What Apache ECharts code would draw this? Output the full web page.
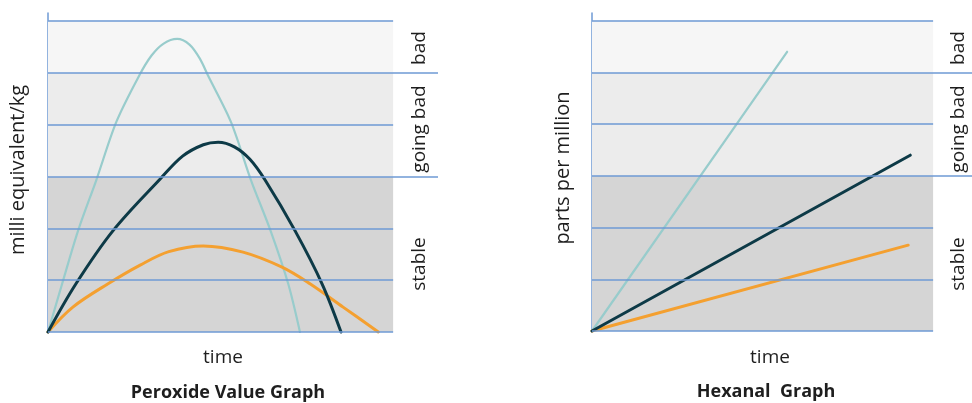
<!DOCTYPE html>
<html><head><meta charset="utf-8">
<script src="https://cdn.jsdelivr.net/npm/echarts@6/dist/echarts.min.js"></script>
<style>html,body{margin:0;padding:0;background:#fff}#c{width:972px;height:403px}</style>
</head><body><div id="c"></div>
<script>
// ---- data ----
const bandLabels = ['stable', 'going bad', 'bad'];
const bandBounds = [0, 3, 5, 6];
const gridLevels = [0, 1, 2, 3, 4, 5, 6];
const boundaryLevels = [3, 5];

// Peroxide value graph (time, milli equivalent/kg)
const pvTimeLight  = [0, 0.41, 0.87, 1.40, 1.98, 2.64, 3.0, 3.35, 3.74, 4.1, 4.4, 4.64, 5.30, 5.88, 6.45, 6.96, 7.30];
const pvValueLight = [0, 0.93, 1.95, 2.93, 4.05, 4.94, 5.33, 5.56, 5.65, 5.54, 5.27, 4.94, 4.05, 2.93, 1.95, 0.93, 0];
const pvTimeDark   = [0, 0.81, 1.88, 3.25, 3.9, 4.5, 4.93, 5.4, 5.85, 6.29, 7.16, 7.94, 8.49];
const pvValueDark  = [0, 0.93, 1.95, 2.95, 3.39, 3.61, 3.66, 3.57, 3.33, 2.93, 1.95, 0.93, 0];
const pvTimeOrange  = [0, 0.72, 1.74, 2.67, 3.5, 4.5, 5.65, 6.78, 7.59, 8.55, 9.57];
const pvValueOrange = [0, 0.48, 0.93, 1.29, 1.55, 1.66, 1.54, 1.25, 0.93, 0.48, 0];

// Hexanal graph (time, parts per million)
const hxTimeLight  = [0, 5.72];
const hxValueLight = [0, 5.40];
const hxTimeDark   = [0, 9.33];
const hxValueDark  = [0, 3.40];
const hxTimeOrange  = [0, 9.27];
const hxValueOrange = [0, 1.66];

// ---- styling ----
const FONT = '"Open Sans", "Noto Sans", sans-serif';
const BLUE = '#6e9ad4';
const BAND_COLORS = ['#d5d5d5', '#ececec', '#f6f6f6'];
const C_LIGHT = '#98cccc', C_DARK = '#0d3a47', C_ORANGE = '#f4a030';

const zip = (xs, ys) => xs.map((x, i) => [x, ys[i]]);

function backgroundSeries(idx, plotMax, axisMax) {
  const areas = bandLabels.map((_, i) => [
    { coord: [0, bandBounds[i]], itemStyle: { color: BAND_COLORS[i] } },
    { coord: [plotMax, bandBounds[i + 1]] }
  ]);
  const lines = gridLevels.map(l => [
    { coord: [0, l] },
    { coord: [boundaryLevels.includes(l) ? axisMax : plotMax, l] }
  ]);
  return {
    type: 'line', xAxisIndex: idx, yAxisIndex: idx, data: [[0, 0]],
    showSymbol: false, lineStyle: { opacity: 0 }, silent: true, z: 1,
    markArea: { silent: true, data: areas, label: { show: false } },
    markLine: {
      silent: true, symbol: 'none', label: { show: false },
      lineStyle: { color: BLUE, width: 1.5, type: 'solid' },
      emphasis: { disabled: true },
      data: lines
    }
  };
}

function curve(idx, xs, ys, color, width, smooth) {
  return {
    type: 'line', xAxisIndex: idx, yAxisIndex: idx, data: zip(xs, ys),
    showSymbol: false, smooth: smooth, clip: false, z: 3,
    lineStyle: { color: color, width: width, cap: 'round' }
  };
}

function yAxis(idx) {
  return {
    type: 'value', gridIndex: idx, min: 0, max: 6.15,
    axisLine: { show: true, lineStyle: { color: BLUE, width: 1.5 } },
    axisTick: { show: false }, axisLabel: { show: false }, splitLine: { show: false }
  };
}

function vText(x, y, text, size, weight) {
  return {
    type: 'text', x: x, y: y, rotation: Math.PI / 2, silent: true,
    style: {
      text: text, fill: '#1e1e1e', font: (weight || 'normal') + ' ' + size + 'px ' + FONT,
      textAlign: 'center', textVerticalAlign: 'middle', align: 'center', verticalAlign: 'middle'
    }
  };
}
function hText(x, y, text, size, weight) {
  const t = vText(x, y, text, size, weight); t.rotation = 0; return t;
}

const chart = echarts.init(document.getElementById('c'), null, { renderer: 'canvas' });
chart.setOption({
  animation: false,
  grid: [
    { left: 48, top: 13, width: 390, bottom: 71 },
    { left: 592, top: 13, width: 380, bottom: 72 }
  ],
  xAxis: [
    { type: 'value', gridIndex: 0, min: 0, max: 11.3, show: false },
    { type: 'value', gridIndex: 1, min: 0, max: 11.14, show: false }
  ],
  yAxis: [yAxis(0), yAxis(1)],
  series: [
    backgroundSeries(0, 10, 11.3),
    curve(0, pvTimeLight, pvValueLight, C_LIGHT, 2.2, 0.3),
    curve(0, pvTimeOrange, pvValueOrange, C_ORANGE, 3, 0.35),
    curve(0, pvTimeDark, pvValueDark, C_DARK, 3, 0.35),
    backgroundSeries(1, 10, 11.14),
    curve(1, hxTimeLight, hxValueLight, C_LIGHT, 2.2, false),
    curve(1, hxTimeOrange, hxValueOrange, C_ORANGE, 3, false),
    curve(1, hxTimeDark, hxValueDark, C_DARK, 3, false)
  ],
  graphic: [
    vText(18, 170, 'milli equivalent/kg', 20),
    vText(563, 168, 'parts per million', 20),
    vText(420, 48, bandLabels[2], 19),
    vText(420, 129, bandLabels[1], 19),
    vText(420, 264, bandLabels[0], 19),
    vText(959, 48, bandLabels[2], 19),
    vText(959, 129, bandLabels[1], 19),
    vText(959, 264, bandLabels[0], 19),
    hText(223, 358, 'time', 19),
    hText(770, 358, 'time', 19),
    hText(228, 393, 'Peroxide Value Graph', 18, 'bold'),
    hText(766, 392, 'Hexanal  Graph', 18, 'bold')
  ]
});
</script>
</body></html>
